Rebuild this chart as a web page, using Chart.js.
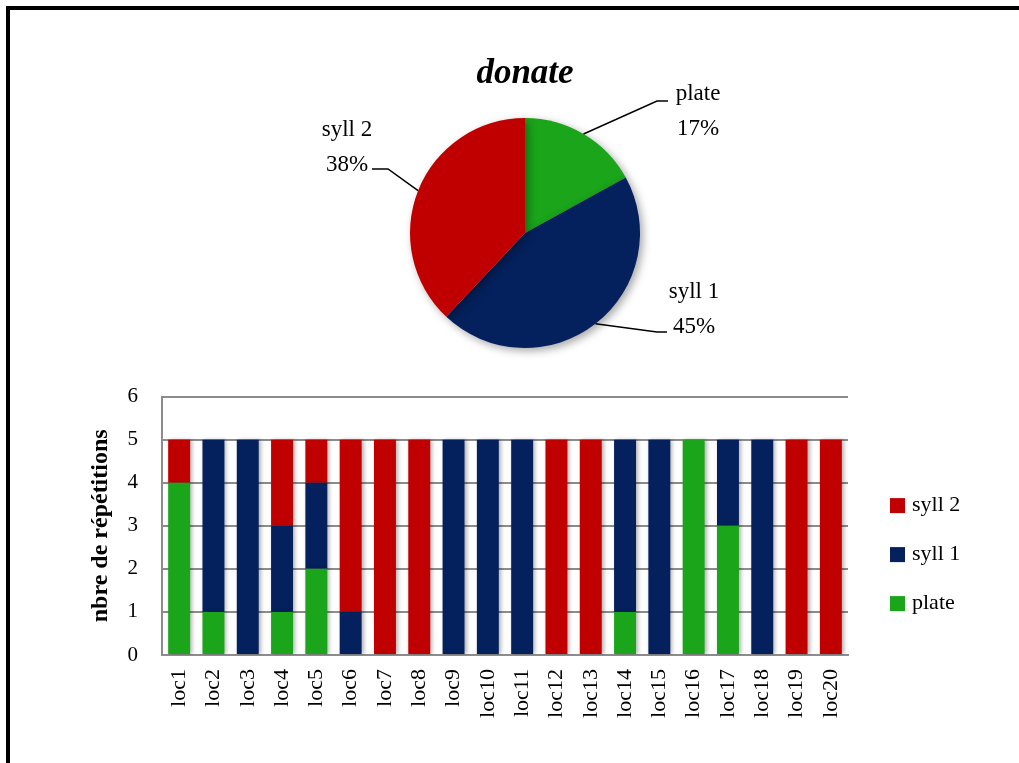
<!DOCTYPE html>
<html>
<head>
<meta charset="utf-8">
<script src="https://cdn.jsdelivr.net/npm/chart.js@4"></script>
<style>
body{margin:0;background:#fff;}
#frame{position:absolute;left:6px;top:6px;width:1013px;height:757px;border-top:4px solid #000;border-left:4px solid #000;box-sizing:border-box;}
#pie{position:absolute;left:300px;top:40px;}
#bar{position:absolute;left:0;top:360px;}
</style>
</head>
<body>
<div id="frame"></div>
<canvas id="pie" width="450" height="320"></canvas>
<canvas id="bar" width="1019" height="403"></canvas>
<script>
// donnees
const locs = ['loc1','loc2','loc3','loc4','loc5','loc6','loc7','loc8','loc9','loc10',
              'loc11','loc12','loc13','loc14','loc15','loc16','loc17','loc18','loc19','loc20'];
const plate = [4,1,0,1,2,0,0,0,0,0,0,0,0,1,0,5,3,0,0,0];
const syll1 = [0,4,5,2,2,1,0,0,5,5,5,0,0,4,5,0,2,5,0,0];
const syll2 = [1,0,0,2,1,4,5,5,0,0,0,5,5,0,0,0,0,0,5,5];

const pieLabels = ['plate','syll 1','syll 2'];
const pieValues = [17,45,38];

/******************************************/
const RED = '#C00000', NAVY = '#04215E', GREEN = '#1AA51A';
const SERIF = '"Liberation Serif", "Times New Roman", serif';
const GRIDC = '#8c8c8c';

// ombre portee sous les elements
function shadowPlugin(id, blur, ox, oy, alpha){
    return {
        id: id,
        beforeDatasetsDraw(chart){
            let c = chart.ctx;
            c.save();
            c.shadowColor = 'rgba(0,0,0,'+alpha+')';
            c.shadowBlur = blur;
            c.shadowOffsetX = ox;
            c.shadowOffsetY = oy;
        },
        afterDatasetsDraw(chart){ chart.ctx.restore(); }
    };
}

// etiquettes du camembert avec lignes de rappel
const callouts = [
    {dx:132, dy:-132, h:11, tx:173, ty:-139},
    {dx:132, dy:99, h:10, tx:169, ty:59},
    {dx:-137, dy:-64, h:-16, tx:-178, ty:-103}
];
const pieCallouts = {
    id:'pieCallouts',
    afterDraw(chart){
        let c = chart.ctx;
        let meta = chart.getDatasetMeta(0);
        let vals = chart.data.datasets[0].data;
        let total = vals.reduce((a,b)=>a+b,0);
        c.save();
        c.strokeStyle = '#000';
        c.lineWidth = 1.5;
        c.fillStyle = '#000';
        c.font = '23px '+SERIF;
        c.textAlign = 'center';
        c.textBaseline = 'middle';
        meta.data.forEach((arc,i)=>{
            let p = arc.getProps(['x','y','startAngle','endAngle','outerRadius'], true);
            let mid = (p.startAngle+p.endAngle)/2;
            let ex = p.x + Math.cos(mid)*p.outerRadius;
            let ey = p.y + Math.sin(mid)*p.outerRadius;
            let o = callouts[i];
            c.beginPath();
            c.moveTo(ex,ey);
            c.lineTo(p.x+o.dx, p.y+o.dy);
            c.lineTo(p.x+o.dx+o.h, p.y+o.dy);
            c.stroke();
            c.fillText(chart.data.labels[i], p.x+o.tx, p.y+o.ty);
            c.fillText(Math.round(vals[i]*100/total)+'%', p.x+o.tx, p.y+o.ty+35);
        });
        c.restore();
    }
};

new Chart(document.getElementById('pie'), {
    type:'pie',
    data:{
        labels: pieLabels,
        datasets:[{data:pieValues, backgroundColor:[GREEN,NAVY,RED], borderWidth:0}]
    },
    options:{
        responsive:false, animation:false, devicePixelRatio:1,
        layout:{padding:{top:13, bottom:12, left:110, right:110}},
        plugins:{
            legend:{display:false},
            tooltip:{enabled:false},
            title:{display:true, text:'donate', color:'#000',
                   font:{family:SERIF, size:35, style:'italic', weight:'bold'},
                   padding:{top:0, bottom:23}}
        }
    },
    plugins:[shadowPlugin('pieShadow',8,3,3,0.35), pieCallouts]
});

/******************************************/
// legende a droite (ordre inverse)
const barLegend = {
    id:'barLegend',
    afterDraw(chart){
        let c = chart.ctx;
        let ds = chart.data.datasets.slice().reverse();
        let x = chart.chartArea.right + 42;
        let y = chart.chartArea.top + 109;
        c.save();
        c.font = '22px '+SERIF;
        c.textBaseline = 'middle';
        c.textAlign = 'left';
        ds.forEach((d,i)=>{
            let yy = y + i*49;
            c.fillStyle = d.backgroundColor;
            c.fillRect(x, yy-7.5, 15, 15);
            c.fillStyle = '#000';
            c.fillText(d.label, x+22, yy);
        });
        c.restore();
    }
};

new Chart(document.getElementById('bar'), {
    type:'bar',
    data:{
        labels: locs,
        datasets:[
            {label:'plate', data:plate, backgroundColor:GREEN},
            {label:'syll 1', data:syll1, backgroundColor:NAVY},
            {label:'syll 2', data:syll2, backgroundColor:RED}
        ]
    },
    options:{
        responsive:false, animation:false, devicePixelRatio:1,
        layout:{padding:{top:8, left:84, right:171, bottom:0}},
        datasets:{bar:{categoryPercentage:1, barPercentage:0.64, borderWidth:0}},
        plugins:{legend:{display:false}, tooltip:{enabled:false}},
        scales:{
            x:{
                stacked:true,
                grid:{display:false, drawTicks:false},
                border:{color:GRIDC, width:2},
                ticks:{minRotation:90, maxRotation:90, padding:14, color:'#000',
                       font:{family:SERIF, size:22}},
                afterFit:s=>{ s.height = 108; }
            },
            y:{
                stacked:true, min:0, max:6,
                ticks:{stepSize:1, padding:24, color:'#000', font:{family:SERIF, size:21}},
                grid:{color:GRIDC, lineWidth:2, drawTicks:false},
                border:{color:GRIDC, width:2},
                title:{display:true, text:'nbre de répétitions', color:'#000',
                       font:{family:SERIF, size:24, weight:'bold'}, padding:{top:2, bottom:0}},
                afterFit:s=>{ s.width = 162-84; }
            }
        }
    },
    plugins:[shadowPlugin('barShadow',4,2,0,0.3), barLegend]
});
</script>
</body>
</html>
